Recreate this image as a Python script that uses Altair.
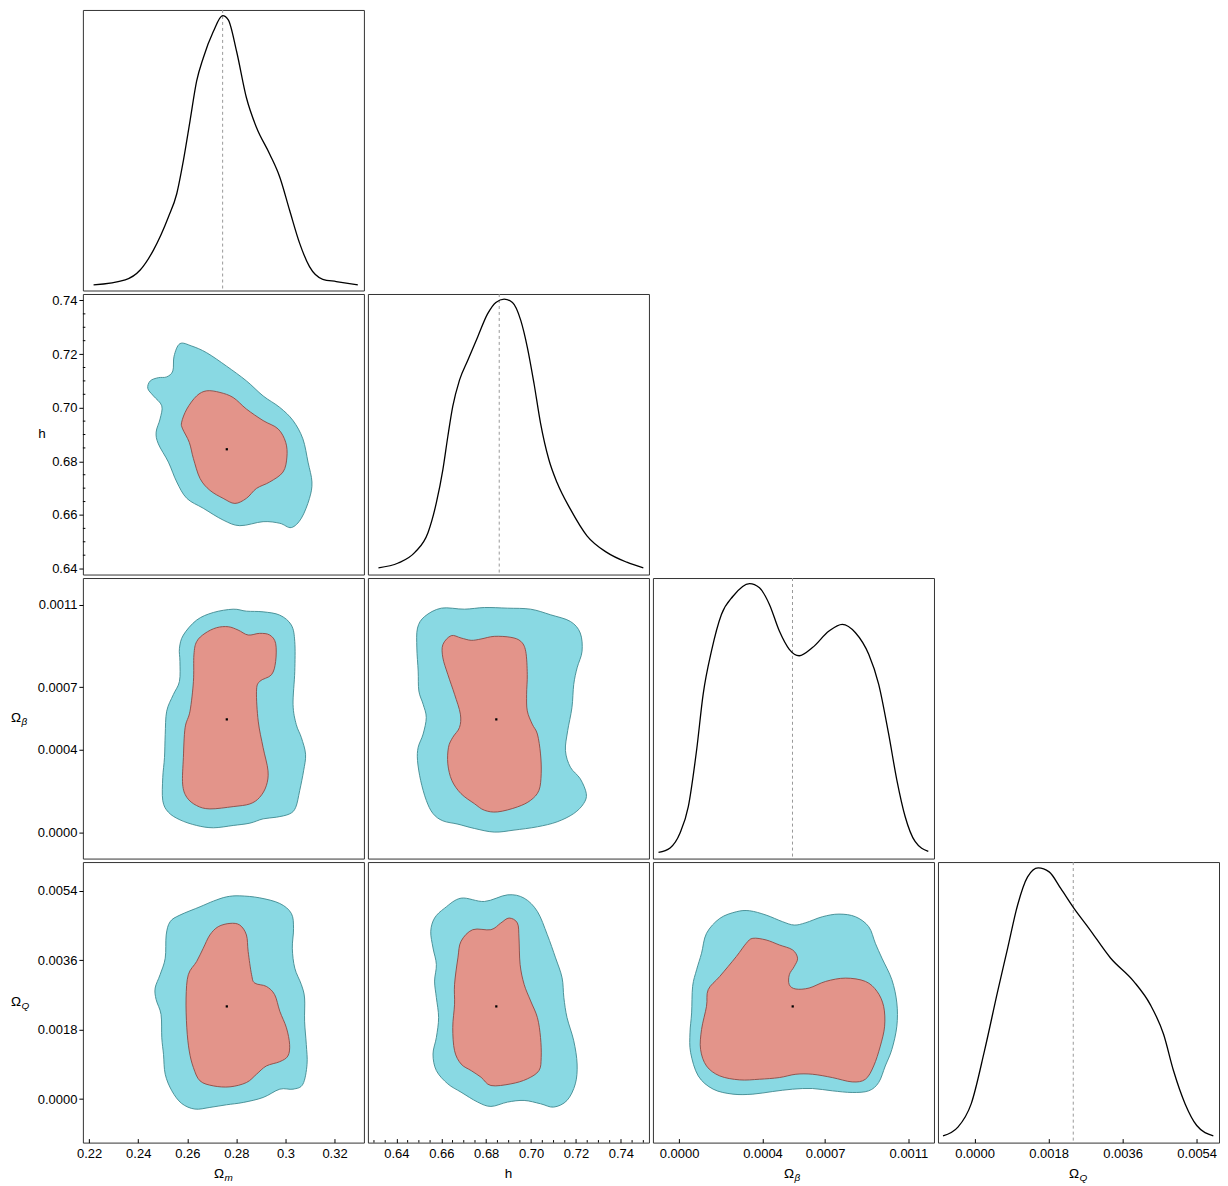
import altair as alt
import pandas as pd

FONT = "Liberation Sans"
W = 281.5
H = 281
GAP = 3.5
CYAN, CYAN_EDGE = "#89d9e3", "#3f8990"
RED, RED_EDGE = "#e3948a", "#8c4a44"

PARAMS = ["Om", "h", "Ob", "OQ"]
X_DOMAIN = {"Om": [0.21744, 0.33198], "h": [0.6273, 0.7525],
            "Ob": [-0.0001252, 0.0012224], "OQ": [-0.000888, 0.005942]}
Y_DOMAIN = {"h": [0.63778, 0.74241], "Ob": [-0.0001278, 0.0012283],
            "OQ": [-0.0011253, 0.0061366]}
TICKS = {"Om": [0.22, 0.24, 0.26, 0.28, 0.30, 0.32],
         "h": [0.64, 0.66, 0.68, 0.70, 0.72, 0.74],
         "Ob": [0.0, 0.0004, 0.0007, 0.0011],
         "OQ": [0.0, 0.0018, 0.0036, 0.0054]}
TICK_FORMAT = {"Om": ".2~f", "h": ".2f", "Ob": ".4f", "OQ": ".4f"}
H_MINOR = [0.630, 0.635, 0.645, 0.650, 0.655, 0.665, 0.670, 0.675, 0.685, 0.690,
           0.695, 0.705, 0.710, 0.715, 0.725, 0.730, 0.735, 0.745, 0.750]
TITLES = {"Om": ("Ω", "m"), "h": ("h", ""), "Ob": ("Ω", "β"), "OQ": ("Ω", "Q")}
MODE = {"Om": 0.2744, "h": 0.6858, "Ob": 0.000544, "OQ": 0.00240}
BEST = {"Om": 0.2761, "h": 0.6845, "Ob": 0.000545, "OQ": 0.00240}

# ---- 1D marginal densities (peak normalised to ~1) ----
OM_GRID = [0.2218, 0.2347, 0.2408, 0.2462, 0.2523, 0.2557, 0.2584, 0.2611, 0.2638, 0.2665,
           0.2706, 0.2744, 0.2767, 0.2801, 0.2841, 0.2882, 0.2936, 0.2977, 0.3017, 0.3058,
           0.3098, 0.3152, 0.3207, 0.3295]
OM_PDF = [0.020, 0.038, 0.073, 0.144, 0.262, 0.345, 0.463, 0.604, 0.746, 0.829,
          0.923, 0.980, 0.965, 0.852, 0.687, 0.581, 0.486, 0.404, 0.286, 0.168,
          0.085, 0.040, 0.032, 0.020]
H_GRID = [0.6320, 0.6408, 0.6482, 0.6541, 0.6578, 0.6607, 0.6629, 0.6651, 0.6681, 0.6718,
          0.6762, 0.6806, 0.6843, 0.6880, 0.6917, 0.6954, 0.6983, 0.7013, 0.7042, 0.7079,
          0.7116, 0.7175, 0.7249, 0.7337, 0.7426, 0.7500]
H_PDF = [0.024, 0.041, 0.079, 0.150, 0.256, 0.374, 0.492, 0.599, 0.693, 0.764,
         0.847, 0.929, 0.970, 0.982, 0.970, 0.906, 0.811, 0.681, 0.540, 0.410,
         0.327, 0.233, 0.138, 0.079, 0.044, 0.024]
OB_GRID = [-0.0000984, -0.0000429, 0.0000048, 0.0000444, 0.0000841, 0.0001159, 0.0001556,
           0.0002032, 0.0002587, 0.0003381, 0.0003857, 0.0004333, 0.0004810, 0.0005286,
           0.0005762, 0.0006397, 0.0007190, 0.0007825, 0.0008460, 0.0009095, 0.0009571,
           0.0010048, 0.0010444, 0.0010841, 0.0011317, 0.0011952]
OB_PDF = [0.022, 0.038, 0.091, 0.185, 0.386, 0.587, 0.740, 0.870, 0.935, 0.980,
          0.965, 0.906, 0.811, 0.746, 0.723, 0.752, 0.811, 0.835, 0.805, 0.728,
          0.622, 0.445, 0.280, 0.150, 0.061, 0.026]
OQ_GRID = [-0.000766, -0.000403, -0.000081, 0.000242, 0.000564, 0.000806, 0.001048,
           0.001290, 0.001548, 0.001814, 0.002096, 0.002418, 0.002781, 0.003305,
           0.003869, 0.004272, 0.004595, 0.004837, 0.005119, 0.005401, 0.005804]
OQ_PDF = [0.024, 0.055, 0.138, 0.327, 0.540, 0.693, 0.847, 0.947, 0.979, 0.965,
          0.906, 0.835, 0.764, 0.658, 0.575, 0.492, 0.386, 0.256, 0.138, 0.061, 0.024]

# ---- 2D credible-region contours (outer = 95%, inner = 68%) ----
C21_OUT_X = [0.2570, 0.2618, 0.2679, 0.2760, 0.2841, 0.2909, 0.2977, 0.3031, 0.3071, 0.3092,
             0.3108, 0.3098, 0.3065, 0.3024, 0.2977, 0.2909, 0.2814, 0.2746, 0.2665, 0.2598,
             0.2557, 0.2523, 0.2482, 0.2473, 0.2489, 0.2496, 0.2462, 0.2439, 0.2449, 0.2482,
             0.2516, 0.2541, 0.2546]
C21_OUT_Y = [0.7239, 0.7230, 0.7205, 0.7155, 0.7100, 0.7044, 0.7001, 0.6952, 0.6884, 0.6797,
             0.6723, 0.6662, 0.6588, 0.6553, 0.6569, 0.6575, 0.6560, 0.6581, 0.6625, 0.6662,
             0.6723, 0.6797, 0.6865, 0.6909, 0.6958, 0.7007, 0.7044, 0.7072, 0.7100, 0.7112,
             0.7115, 0.7137, 0.7192]
C21_IN_X = [0.2679, 0.2733, 0.2787, 0.2841, 0.2909, 0.2970, 0.3001, 0.3006, 0.2990, 0.2936,
            0.2882, 0.2841, 0.2794, 0.2746, 0.2692, 0.2652, 0.2625, 0.2608, 0.2581, 0.2577,
            0.2598, 0.2638]
C21_IN_Y = [0.7063, 0.7057, 0.7038, 0.6995, 0.6952, 0.6921, 0.6871, 0.6816, 0.6760, 0.6723,
            0.6699, 0.6662, 0.6643, 0.6662, 0.6692, 0.6736, 0.6810, 0.6871, 0.6921, 0.6946,
            0.6995, 0.7044]

C31_OUT_X = [0.2706, 0.2787, 0.2841, 0.2909, 0.2977, 0.3024, 0.3038, 0.3038, 0.3031, 0.3044,
             0.3065, 0.3082, 0.3074, 0.3058, 0.3042, 0.3017, 0.2963, 0.2909, 0.2855, 0.2787,
             0.2706, 0.2638, 0.2570, 0.2523, 0.2500, 0.2500, 0.2507, 0.2510, 0.2516, 0.2543,
             0.2568, 0.2570, 0.2568, 0.2584, 0.2638]
C31_OUT_Y = [0.0010617, 0.0010777, 0.0010681, 0.0010649, 0.0010489, 0.0010009, 0.0009208,
             0.0007767, 0.0006166, 0.0005205, 0.0004565, 0.0003764, 0.0002964, 0.0002003,
             0.0001202, 0.0000882, 0.0000722, 0.0000642, 0.0000434, 0.0000322, 0.0000210,
             0.0000322, 0.0000594, 0.0000962, 0.0001523, 0.0002644, 0.0003604, 0.0004725,
             0.0005846, 0.0006646, 0.0007287, 0.0008248, 0.0008888, 0.0009528, 0.0010249]
C31_IN_X = [0.2719, 0.2767, 0.2807, 0.2848, 0.2895, 0.2936, 0.2960, 0.2960, 0.2943, 0.2895,
            0.2882, 0.2889, 0.2909, 0.2929, 0.2922, 0.2895, 0.2855, 0.2787, 0.2692, 0.2638,
            0.2598, 0.2581, 0.2584, 0.2591, 0.2611, 0.2625, 0.2627, 0.2638, 0.2672]
C31_IN_Y = [0.0009881, 0.0009929, 0.0009769, 0.0009528, 0.0009609, 0.0009528, 0.0009128,
            0.0008248, 0.0007607, 0.0007287, 0.0006807, 0.0005366, 0.0004085, 0.0002964,
            0.0002243, 0.0001683, 0.0001363, 0.0001234, 0.0001122, 0.0001283, 0.0001683,
            0.0002323, 0.0003604, 0.0005045, 0.0005846, 0.0007287, 0.0008568, 0.0009208,
            0.0009609]

C41_OUT_X = [0.2760, 0.2814, 0.2895, 0.2977, 0.3024, 0.3033, 0.3028, 0.3038, 0.3065, 0.3078,
             0.3078, 0.3085, 0.3088, 0.3071, 0.3031, 0.2977, 0.2909, 0.2828, 0.2760, 0.2692,
             0.2631, 0.2577, 0.2537, 0.2510, 0.2503, 0.2496, 0.2493, 0.2473, 0.2469, 0.2489,
             0.2510, 0.2514, 0.2530, 0.2570, 0.2652, 0.2706]
C41_OUT_Y = [0.005236, 0.005262, 0.005210, 0.005064, 0.004807, 0.004421, 0.003906, 0.003391,
             0.002961, 0.002618, 0.002017, 0.001416, 0.000901, 0.000386, 0.000258, 0.000258,
             0.000043, -0.000086, -0.000146, -0.000215, -0.000258, -0.000112, 0.000215,
             0.000644, 0.001159, 0.001588, 0.002189, 0.002575, 0.002876, 0.003219, 0.003648,
             0.004249, 0.004592, 0.004764, 0.004979, 0.005125]
C41_IN_X = [0.2774, 0.2814, 0.2841, 0.2848, 0.2862, 0.2875, 0.2922, 0.2956, 0.2977, 0.3004,
            0.3017, 0.3010, 0.2977, 0.2922, 0.2882, 0.2841, 0.2774, 0.2706, 0.2652, 0.2625,
            0.2608, 0.2598, 0.2595, 0.2604, 0.2638, 0.2665, 0.2692, 0.2726]
C41_IN_Y = [0.004549, 0.004506, 0.004249, 0.003820, 0.003219, 0.003004, 0.002918, 0.002704,
            0.002275, 0.001846, 0.001416, 0.001116, 0.000970, 0.000858, 0.000644, 0.000429,
            0.000318, 0.000343, 0.000472, 0.000815, 0.001245, 0.001846, 0.002618, 0.003219,
            0.003562, 0.003906, 0.004249, 0.004464]

C32_OUT_X = [0.6600, 0.6703, 0.6792, 0.6895, 0.6998, 0.7087, 0.7175, 0.7219, 0.7227, 0.7205,
             0.7190, 0.7182, 0.7163, 0.7153, 0.7175, 0.7219, 0.7246, 0.7234, 0.7190, 0.7116,
             0.7028, 0.6924, 0.6836, 0.6747, 0.6674, 0.6607, 0.6563, 0.6533, 0.6508, 0.6494,
             0.6497, 0.6519, 0.6533, 0.6519, 0.6500, 0.6497, 0.6491, 0.6494, 0.6526]
C32_OUT_Y = [0.0010826, 0.0010777, 0.0010857, 0.0010826, 0.0010777, 0.0010505, 0.0010185,
             0.0009625, 0.0008744, 0.0007943, 0.0007143, 0.0006022, 0.0004901, 0.0003940,
             0.0003140, 0.0002579, 0.0001859, 0.0001379, 0.0000898, 0.0000498, 0.0000258,
             0.0000098, 0.0000002, 0.0000178, 0.0000386, 0.0000546, 0.0000898, 0.0001539,
             0.0002499, 0.0003460, 0.0004101, 0.0004741, 0.0005542, 0.0006182, 0.0006823,
             0.0007783, 0.0008904, 0.0009865, 0.0010425]
C32_IN_X = [0.6644, 0.6688, 0.6733, 0.6777, 0.6836, 0.6910, 0.6954, 0.6976, 0.6983, 0.6980,
            0.6983, 0.7005, 0.7028, 0.7042, 0.7045, 0.7035, 0.6998, 0.6939, 0.6851, 0.6792,
            0.6747, 0.6688, 0.6647, 0.6629, 0.6632, 0.6651, 0.6681, 0.6685, 0.6659, 0.6629,
            0.6607, 0.6607]
C32_IN_Y = [0.0009497, 0.0009384, 0.0009272, 0.0009336, 0.0009464, 0.0009416, 0.0009224,
            0.0008744, 0.0007623, 0.0006662, 0.0005862, 0.0005221, 0.0004741, 0.0003780,
            0.0002820, 0.0002019, 0.0001539, 0.0001218, 0.0000978, 0.0001058, 0.0001379,
            0.0001859, 0.0002499, 0.0003300, 0.0004101, 0.0004581, 0.0005061, 0.0005702,
            0.0006662, 0.0007623, 0.0008424, 0.0009064]

C42_OUT_X = [0.6688, 0.6792, 0.6895, 0.6969, 0.7028, 0.7072, 0.7109, 0.7138, 0.7146, 0.7160,
             0.7190, 0.7205, 0.7197, 0.7160, 0.7101, 0.7042, 0.6969, 0.6895, 0.6821, 0.6762,
             0.6688, 0.6629, 0.6578, 0.6563, 0.6578, 0.6588, 0.6578, 0.6570, 0.6578, 0.6563,
             0.6553, 0.6570, 0.6615]
C42_OUT_Y = [0.005202, 0.005116, 0.005288, 0.005202, 0.004858, 0.004258, 0.003657, 0.003142,
             0.002627, 0.002112, 0.001511, 0.000910, 0.000395, -0.000034, -0.000206, -0.000120,
             -0.000034, -0.000077, -0.000189, -0.000077, 0.000180, 0.000395, 0.000738,
             0.001167, 0.001597, 0.002112, 0.002627, 0.003056, 0.003485, 0.003914, 0.004343,
             0.004687, 0.004944]
C42_IN_X = [0.6740, 0.6821, 0.6865, 0.6902, 0.6939, 0.6946, 0.6951, 0.6969, 0.6998, 0.7028,
            0.7042, 0.7045, 0.7035, 0.6983, 0.6910, 0.6821, 0.6777, 0.6733, 0.6688, 0.6659,
            0.6651, 0.6659, 0.6659, 0.6674, 0.6688]
C42_IN_Y = [0.004386, 0.004386, 0.004558, 0.004687, 0.004558, 0.004172, 0.003485, 0.002970,
            0.002541, 0.002112, 0.001597, 0.001082, 0.000738, 0.000524, 0.000395, 0.000352,
            0.000567, 0.000738, 0.000910, 0.001253, 0.001854, 0.002455, 0.002970, 0.003657,
            0.004086]

C43_OUT_X = [0.0002746, 0.0003381, 0.0004175, 0.0004968, 0.0005524, 0.0006079, 0.0006873,
             0.0007667, 0.0008460, 0.0009095, 0.0009413, 0.0009730, 0.0010206, 0.0010444,
             0.0010444, 0.0010206, 0.0009889, 0.0009571, 0.0009095, 0.0008302, 0.0007349,
             0.0006397, 0.0005444, 0.0004492, 0.0003540, 0.0002587, 0.0001635, 0.0000921,
             0.0000556, 0.0000524, 0.0000603, 0.0000651, 0.0000841, 0.0001079, 0.0001317,
             0.0001952]
C43_OUT_Y = [0.004850, 0.004876, 0.004764, 0.004592, 0.004506, 0.004567, 0.004721, 0.004790,
             0.004721, 0.004464, 0.004034, 0.003648, 0.003090, 0.002489, 0.001888, 0.001288,
             0.000858, 0.000429, 0.000215, 0.000172, 0.000215, 0.000275, 0.000258, 0.000197,
             0.000129, 0.000129, 0.000258, 0.000601, 0.001202, 0.001717, 0.002232, 0.002918,
             0.003348, 0.003777, 0.004292, 0.004678]
C43_IN_X = [0.0003540, 0.0004175, 0.0004810, 0.0005444, 0.0005683, 0.0005524, 0.0005286,
            0.0005286, 0.0005603, 0.0006238, 0.0007032, 0.0007984, 0.0008937, 0.0009492,
            0.0009810, 0.0009857, 0.0009651, 0.0009333, 0.0008937, 0.0008302, 0.0007349,
            0.0006397, 0.0005603, 0.0004810, 0.0003857, 0.0002905, 0.0001952, 0.0001317,
            0.0001032, 0.0001079, 0.0001317, 0.0001397, 0.0001952, 0.0002746, 0.0003222]
C43_IN_Y = [0.004163, 0.004120, 0.003991, 0.003863, 0.003648, 0.003434, 0.003219, 0.002961,
            0.002850, 0.002876, 0.003047, 0.003133, 0.003047, 0.002790, 0.002403, 0.001888,
            0.001373, 0.000858, 0.000515, 0.000446, 0.000558, 0.000644, 0.000644, 0.000558,
            0.000515, 0.000498, 0.000601, 0.000858, 0.001288, 0.001803, 0.002403, 0.002833,
            0.003176, 0.003691, 0.004034]

DENSITIES = {"Om": (OM_GRID, OM_PDF), "h": (H_GRID, H_PDF),
             "Ob": (OB_GRID, OB_PDF), "OQ": (OQ_GRID, OQ_PDF)}
CONTOURS = {
    (1, 0): ((C21_OUT_X, C21_OUT_Y), (C21_IN_X, C21_IN_Y)),
    (2, 0): ((C31_OUT_X, C31_OUT_Y), (C31_IN_X, C31_IN_Y)),
    (3, 0): ((C41_OUT_X, C41_OUT_Y), (C41_IN_X, C41_IN_Y)),
    (2, 1): ((C32_OUT_X, C32_OUT_Y), (C32_IN_X, C32_IN_Y)),
    (3, 1): ((C42_OUT_X, C42_OUT_Y), (C42_IN_X, C42_IN_Y)),
    (3, 2): ((C43_OUT_X, C43_OUT_Y), (C43_IN_X, C43_IN_Y)),
}

LABEL_SIZE = 13


def x_axis(p, show):
    if not show:
        return None
    return alt.Axis(values=TICKS[p], format=TICK_FORMAT[p], title=None, grid=False,
                    domain=False, tickSize=4, tickColor="black", offset=-4,
                    labelPadding=5, labelFont=FONT, labelFontSize=LABEL_SIZE,
                    labelColor="black", labelOverlap=False, labelFlush=False)


def y_axis(p, show):
    if not show:
        return None
    return alt.Axis(values=TICKS[p], format=TICK_FORMAT[p], title=None, grid=False,
                    domain=False, tickSize=4, tickColor="black", labelPadding=2,
                    labelFont=FONT, labelFontSize=LABEL_SIZE, labelColor="black",
                    labelOverlap=False, labelFlush=False)


def xenc(field, p, show):
    return alt.X(field, type="quantitative",
                 scale=alt.Scale(domain=X_DOMAIN[p], nice=False, zero=False),
                 axis=x_axis(p, show))


def yenc(field, p, show):
    return alt.Y(field, type="quantitative",
                 scale=alt.Scale(domain=Y_DOMAIN[p], nice=False, zero=False),
                 axis=y_axis(p, show))


def text_layer(txt, x, y, size, italic=False, align="left"):
    kw = dict(font=FONT, fontSize=size, align=align, baseline="middle", color="black")
    if italic:
        kw["fontStyle"] = "italic"
    return alt.Chart(pd.DataFrame({"t": [txt]})).mark_text(**kw).encode(
        x=alt.value(x), y=alt.value(y), text="t:N")


def title_layers(p, where):
    main, sub = TITLES[p]
    out = []
    if where == "bottom":
        if sub:
            out.append(text_layer(main, W / 2 - 9.5, H + 31, 13.5))
            out.append(text_layer(sub, W / 2 + 1, H + 35, 10, italic=True))
        else:
            out.append(text_layer(main, W / 2, H + 31, 13.5, align="center"))
    else:
        if sub:
            out.append(text_layer(main, -72, H / 2, 13.5))
            out.append(text_layer(sub, -61.5, H / 2 + 4, 10, italic=True))
        else:
            out.append(text_layer(main, -41, H / 2, 13.5, align="center"))
    return out


def polygon_layer(xs, ys, xp, yp, showx, showy, fill, edge):
    df = pd.DataFrame({"x": xs, "y": ys, "i": list(range(len(xs)))})
    return alt.Chart(df).mark_line(interpolate="cardinal-closed", fill=fill, stroke=edge,
                                   strokeWidth=0.9, fillOpacity=1).encode(
        x=xenc("x", xp, showx), y=yenc("y", yp, showy), order=alt.Order("i:Q"))


def pair_panel(r, c):
    xp, yp = PARAMS[c], PARAMS[r]
    showx, showy = (r == 3), (c == 0)
    (ox, oy), (ix, iy) = CONTOURS[(r, c)]
    layers = [polygon_layer(ox, oy, xp, yp, showx, showy, CYAN, CYAN_EDGE),
              polygon_layer(ix, iy, xp, yp, showx, showy, RED, RED_EDGE)]
    dot = pd.DataFrame({"x": [BEST[xp]], "y": [BEST[yp]]})
    layers.append(alt.Chart(dot).mark_square(size=5, color="black", opacity=1).encode(
        x=xenc("x", xp, showx), y=yenc("y", yp, showy)))
    if showx and xp == "h":
        lo, hi = X_DOMAIN["h"]
        mdf = pd.DataFrame({"v": [v for v in H_MINOR if lo <= v <= hi]})
        layers.append(alt.Chart(mdf).mark_rule(color="black", strokeWidth=1).encode(
            x=xenc("v", xp, showx), y=alt.value(H), y2=alt.value(H - 2.5)))
    if showy and yp == "h":
        lo, hi = Y_DOMAIN["h"]
        mdf = pd.DataFrame({"v": [v for v in H_MINOR if lo <= v <= hi]})
        layers.append(alt.Chart(mdf).mark_rule(color="black", strokeWidth=1).encode(
            y=yenc("v", yp, showy), x=alt.value(0), x2=alt.value(2.5)))
    if showx:
        layers += title_layers(xp, "bottom")
    if showy:
        layers += title_layers(yp, "left")
    return alt.layer(*layers).properties(width=W, height=H)


def diag_panel(k):
    p = PARAMS[k]
    showx = (k == 3)
    grid, pdf = DENSITIES[p]
    df = pd.DataFrame({"x": grid, "d": pdf})
    line = alt.Chart(df).mark_line(color="black", strokeWidth=1.3, interpolate="monotone").encode(
        x=xenc("x", p, showx),
        y=alt.Y("d:Q", scale=alt.Scale(domain=[0, 1], nice=False, zero=False), axis=None))
    mode = alt.Chart(pd.DataFrame({"x": [MODE[p]]})).mark_rule(
        color="#999999", strokeDash=[3, 3], strokeWidth=1).encode(x=xenc("x", p, showx))
    layers = [mode, line]
    if showx:
        layers += title_layers(p, "bottom")
    return alt.layer(*layers).properties(width=W, height=H)


def empty_panel():
    return alt.Chart(pd.DataFrame({"a": [0]})).mark_point(opacity=0, size=1).encode(
        x=alt.value(W / 2), y=alt.value(H / 2)).properties(
        width=W, height=H, view=alt.ViewBackground(stroke="transparent"))


cells = []
for r in range(4):
    for c in range(4):
        if c > r:
            cells.append(empty_panel())
        elif c == r:
            cells.append(diag_panel(r))
        else:
            cells.append(pair_panel(r, c))

chart = alt.concat(*cells, columns=4, spacing=GAP, bounds="flush").properties(
    padding={"left": 2, "top": 0, "right": 0, "bottom": 0}
).configure_view(stroke="#333333", strokeWidth=1)

chart.save("out.html", embed_options={"renderer": "svg", "actions": False})
